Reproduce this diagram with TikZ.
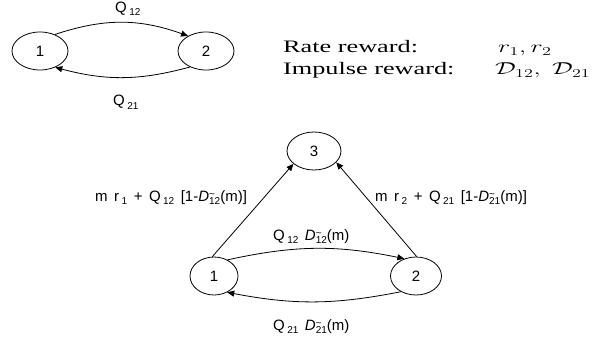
\documentclass[tikz,border=0pt]{standalone}
\usepackage{fontspec}
\setmainfont{Liberation Serif}
\setsansfont{Liberation Sans}
\usepackage{tikz}
\usetikzlibrary{shapes,arrows.meta,positioning}

\newcommand{\lo}[1]{\hspace{2.5pt}\raisebox{-3pt}{\fontsize{10}{10}\selectfont #1}}
\newcommand{\Dt}[1]{\textit{D}\makebox[0pt][l]{\raisebox{3.7pt}{\fontsize{10}{10}\selectfont\textasciitilde}}\raisebox{-3pt}{\fontsize{10}{10}\selectfont #1}}
\newcommand{\gp}{\hspace{6.5pt}}
\newcommand{\wide}[1]{\scalebox{1.5}[1]{#1}}

\begin{document}
\begin{tikzpicture}[x=1pt, y=1pt, font=\sffamily\fontsize{15}{18}\selectfont,
    >={Triangle[length=7pt,width=6pt]},
    state/.style={draw, ellipse, line width=0.8pt, minimum width=56pt, minimum height=38pt, inner sep=0pt},
    flow/.style={->, line width=0.8pt},
    lbl/.style={anchor=base west, inner sep=0pt},
    txt/.style={anchor=base west, inner sep=0pt, font=\rmfamily\fontsize{17.5}{21}\selectfont}]
    \useasboundingbox (0,0) rectangle (609,-342);

    % Two-state chain
    \node[state] (top1) at (40,-51) {1};
    \node[state] (top2) at (206,-51) {2};
    \draw[flow] (top1.48) to[bend left=19] (top2.140);
    \draw[flow] (top2.225) to[bend left=15] (top1.313);
    \node[lbl] (q12) at (115,-13) {Q\lo{12}};
    \node[lbl] (q21) at (113,-106) {Q\lo{21}};

    % Rewards
    \node[txt] (rate) at (283,-53) {\wide{Rate reward:}};
    \node[txt] (impulse) at (283,-75) {\wide{Impulse reward:}};
    \node[txt] (rateval) at (498,-53) {\wide{$r_1, r_2$}};
    \node[txt] (impulseval) at (495,-75) {\wide{$\mathcal{D}_{12},\;\mathcal{D}_{21}$}};

    % Chain with absorbing state 3
    \node[state, minimum width=48pt] (bot1) at (214,-276) {1};
    \node[state, minimum width=51pt] (bot2) at (416,-276) {2};
    \node[state, minimum width=54pt] (bot3) at (314,-151) {3};
    \draw[flow] (bot1.95) -- (bot3.212);
    \draw[flow] (bot2.88) -- (bot3.333);
    \draw[flow] (bot1.50) to[bend left=12] (bot2.124);
    \draw[flow] (bot2.226) to[bend left=11] (bot1.309);
    \node[lbl] (left13) at (95,-201) {m\gp r\lo{1}\gp+\gp Q\lo{12}\gp[1-\Dt{12}(m)]};
    \node[lbl] (right23) at (375,-201) {m\gp r\lo{2}\gp+\gp Q\lo{21}\gp[1-\Dt{21}(m)]};
    \node[lbl] (imp12) at (273,-240) {Q\lo{12}\gp\Dt{12}(m)};
    \node[lbl] (imp21) at (273,-330) {Q\lo{21}\gp\Dt{21}(m)};
\end{tikzpicture}
\end{document}
